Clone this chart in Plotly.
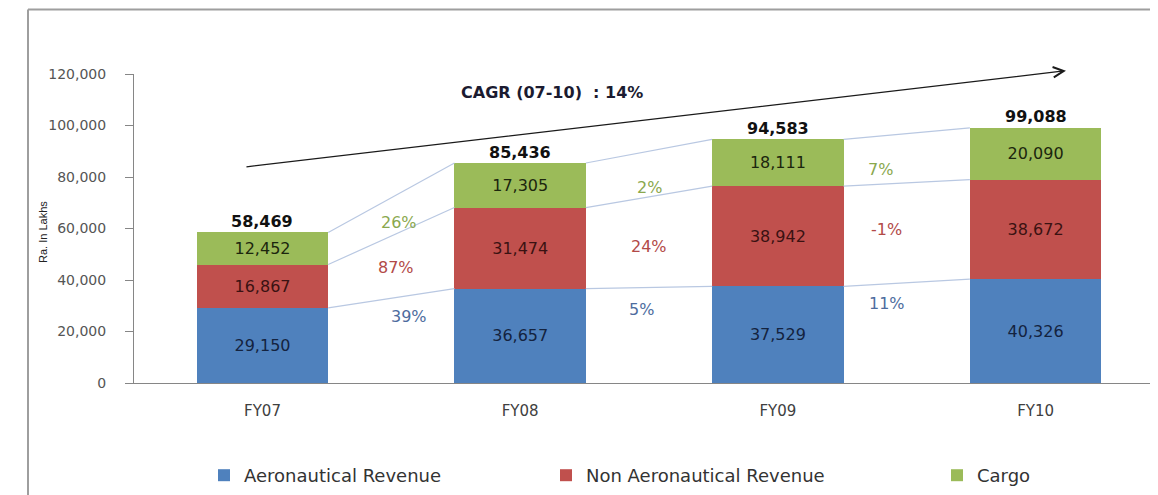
import plotly.graph_objects as go

# ---------------- data ----------------
years = ["FY07", "FY08", "FY09", "FY10"]
aeronautical = [29150, 36657, 37529, 40326]
non_aeronautical = [16867, 31474, 38942, 38672]
cargo = [12452, 17305, 18111, 20090]
totals = [58469, 85436, 94583, 99088]

# growth labels between bars (Cargo, Non Aero, Aero)
growth_cargo = ["26%", "2%", "7%"]
growth_non_aero = ["87%", "24%", "-1%"]
growth_aero = ["39%", "5%", "11%"]
cagr_text = "CAGR (07-10)  : 14%"
y_ticks = [0, 20000, 40000, 60000, 80000, 100000, 120000]

# ---------------- layout constants (positions / styles) ----------------
OFF = 8                      # default page body margin
W, H = 1158 - OFF, 495 - OFF
ML, MR, MT, MB = 134 - OFF, 0, 74 - OFF, 112
BAR_W = 0.51
XR = [-0.4986, 3.4751]
YR = [0, 120000]
blue, red, green = "#4F81BD", "#C0504D", "#9BBB59"
txt_blue, txt_red, txt_green = "#14233f", "#3a1212", "#1c260e"
pct_blue, pct_red, pct_green = "#4d6c9e", "#b24a48", "#8aa84e"
FONT = "DejaVu Sans"

PW = W - ML - MR
PH = H - MT - MB
fx = lambda p: (p - OFF - ML) / PW          # screen px -> paper x
fy = lambda q: (H - MB - (q - OFF)) / PH    # screen px -> paper y

# growth label positions: (x, y) in data units
pos_cargo = [(0.53, 62500), (1.50, 76100), (2.40, 83100)]
pos_non = [(0.52, 44850), (1.50, 52900), (2.42, 59800)]
pos_aero = [(0.57, 25700), (1.47, 28700), (2.425, 30900)]
legend_x_px = [204, 546, 937]

xs = list(range(len(years)))

fig = go.Figure()
series = [
    ("Aeronautical Revenue", aeronautical, blue, txt_blue),
    ("Non Aeronautical Revenue", non_aeronautical, red, txt_red),
    ("Cargo", cargo, green, txt_green),
]
legend_ids = ["legend", "legend2", "legend3"]
for (name, vals, col, tcol), lid in zip(series, legend_ids):
    fig.add_trace(go.Bar(
        x=xs, y=vals, name=name, width=BAR_W, legend=lid,
        marker=dict(color=col, line=dict(width=0)),
        text=[f"{v:,}" for v in vals], textposition="inside",
        insidetextanchor="middle", constraintext="none",
        textfont=dict(family=FONT, size=16, color=tcol),
        hoverinfo="skip",
    ))

# connector (series) lines between cumulative tops
cum = [0] * len(years)
for name, vals, col, tcol in series:
    cum = [c + v for c, v in zip(cum, vals)]
    lx, ly = [], []
    for i in range(len(years) - 1):
        lx += [xs[i] + BAR_W / 2, xs[i + 1] - BAR_W / 2, None]
        ly += [cum[i], cum[i + 1], None]
    fig.add_trace(go.Scatter(x=lx, y=ly, mode="lines",
                             line=dict(color="#b9c8e2", width=1.2),
                             showlegend=False, hoverinfo="skip"))

annotations = []
# totals
for x, t in zip(xs, totals):
    annotations.append(dict(x=x, y=t, xref="x", yref="y", text=f"<b>{t:,}</b>",
                            showarrow=False, yanchor="middle", yshift=11,
                            font=dict(family=FONT, size=16, color="#111111")))
# growth labels
for labels, poss, col in [(growth_cargo, pos_cargo, pct_green),
                          (growth_non_aero, pos_non, pct_red),
                          (growth_aero, pos_aero, pct_blue)]:
    for lab, (px, py) in zip(labels, poss):
        annotations.append(dict(x=px, y=py, xref="x", yref="y", text=lab,
                                showarrow=False,
                                font=dict(family=FONT, size=16, color=col)))
# CAGR text
annotations.append(dict(x=1.123, y=113000, xref="x", yref="y", text=f"<b>{cagr_text}</b>",
                        showarrow=False, font=dict(family=FONT, size=16, color="#1b1b30")))
# CAGR arrow
annotations.append(dict(x=3.118, y=121280, xref="x", yref="y",
                        ax=-0.068, ay=83880, axref="x", ayref="y",
                        text="", showarrow=True, arrowhead=5, arrowsize=1.6,
                        arrowwidth=1.3, arrowcolor="#1a1a1a"))
# y axis title
annotations.append(dict(x=fx(43), y=fy(232), xref="paper", yref="paper",
                        xanchor="center", yanchor="middle",
                        text="Ra. In Lakhs", textangle=-90, showarrow=False,
                        font=dict(family="Liberation Sans", size=11, color="#222222")))

FRAME_TOP = 9.5
shapes = [
    dict(type="line", xref="paper", yref="paper", x0=fx(28), x1=fx(28),
         y0=fy(FRAME_TOP), y1=fy(520), line=dict(color="#9e9e9e", width=2)),
    dict(type="line", xref="paper", yref="paper", x0=fx(28), x1=fx(1180),
         y0=fy(FRAME_TOP), y1=fy(FRAME_TOP), line=dict(color="#9e9e9e", width=2)),
]

legend_style = dict(orientation="h", xanchor="left", yanchor="bottom", y=fy(494),
                    font=dict(family=FONT, size=18, color="#333333"),
                    itemwidth=30, bgcolor="rgba(0,0,0,0)")

fig.update_layout(
    width=W, height=H, autosize=False,
    margin=dict(l=ML, r=MR, t=MT, b=MB, pad=0),
    barmode="stack",
    plot_bgcolor="white", paper_bgcolor="white",
    font=dict(family=FONT, color="#404040"),
    showlegend=True,
    legend=dict(x=fx(legend_x_px[0]), **legend_style),
    legend2=dict(x=fx(legend_x_px[1]), **legend_style),
    legend3=dict(x=fx(legend_x_px[2]), **legend_style),
    annotations=annotations,
    shapes=shapes,
    xaxis=dict(range=XR, tickvals=xs, ticktext=years, showgrid=False, zeroline=False,
               showline=True, linecolor="#868686", linewidth=1, ticks="",
               tickfont=dict(family=FONT, size=15, color="#404040"),
               ticklabelstandoff=14, fixedrange=True),
    yaxis=dict(range=YR, tickvals=y_ticks, ticktext=[f"{v:,}" for v in y_ticks],
               showgrid=False, zeroline=False, showline=True, linecolor="#868686",
               linewidth=1, ticks="outside", ticklen=8, tickcolor="#868686",
               tickfont=dict(family=FONT, size=14, color="#555555"),
               ticklabelstandoff=16, fixedrange=True),
)

fig.write_html("out.html")
